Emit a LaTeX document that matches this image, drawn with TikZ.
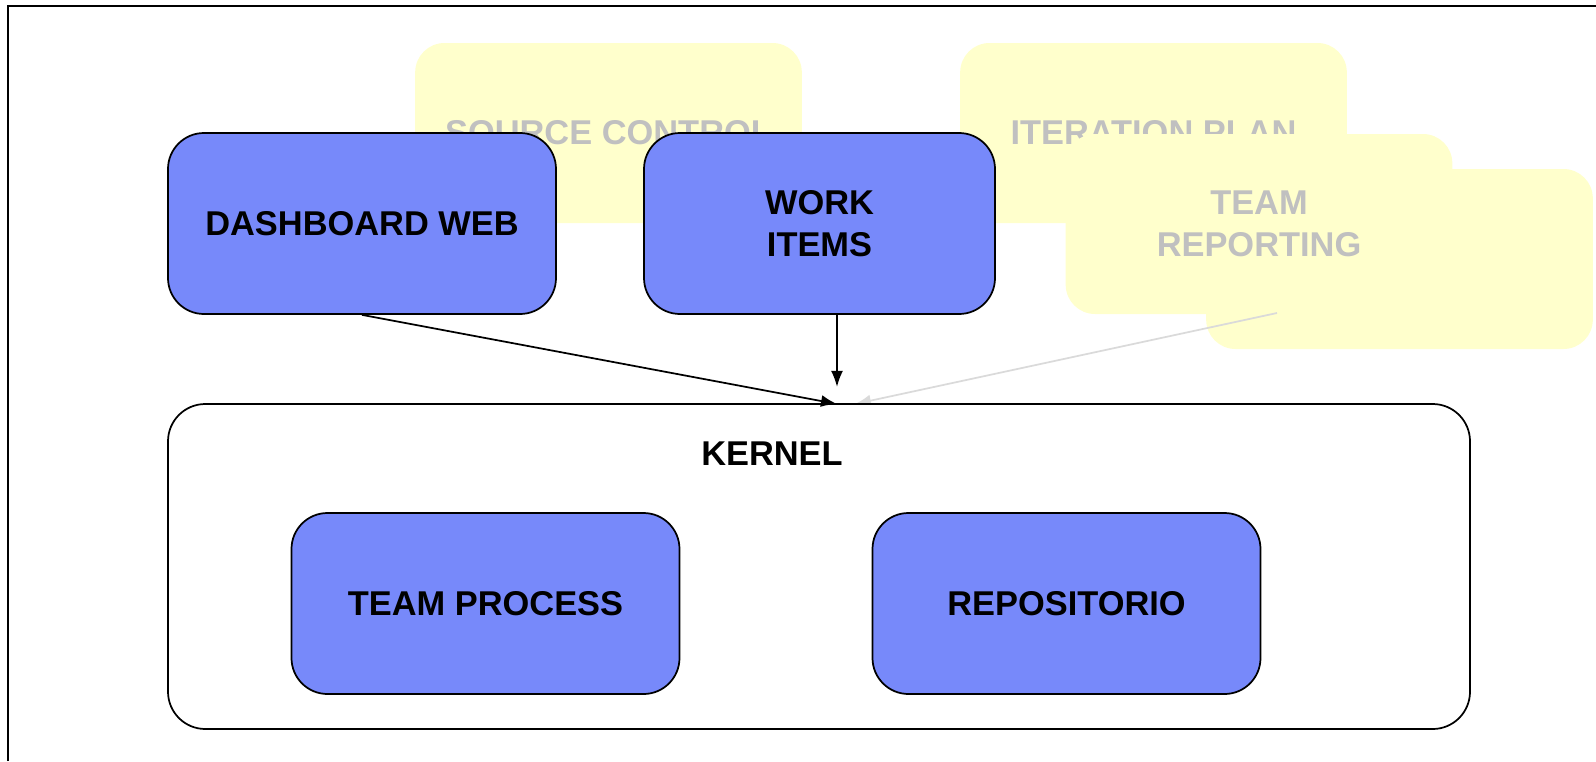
\documentclass[tikz,border=0pt]{standalone}
\usepackage{amsmath}
\usepackage{fontspec}
\setmainfont{Liberation Sans}
\usetikzlibrary{arrows.meta}

\definecolor{boxblue}{RGB}{119,137,250}
\definecolor{paleyellow}{RGB}{255,255,204}
\definecolor{fadedtext}{RGB}{192,192,192}
\definecolor{fadedline}{RGB}{218,218,218}

\begin{document}
\begin{tikzpicture}[x=0.75pt,y=0.75pt,yscale=-1,xscale=1,
  bluebox/.style={draw=black, line width=1.3pt, fill=boxblue, rounded corners=27pt,
    minimum width=291pt, minimum height=135.75pt, inner sep=0pt, align=center,
    font=\fontsize{25.8}{31.2}\selectfont\bfseries},
  yellowbox/.style={fill=paleyellow, rounded corners=22pt, minimum width=290pt,
    minimum height=135pt, inner sep=0pt, align=center, text=fadedtext,
    font=\fontsize{25.8}{31.2}\selectfont\bfseries},
  arr/.style={line width=1.3pt, -{Latex[length=12pt,width=9pt]}},
  fadedarr/.style={draw=fadedline, line width=1.3pt, -{Latex[length=12pt,width=9pt]}}]
\useasboundingbox (0,0) rectangle (1596,761);

%Frame
\draw [line width=1.1pt]  (8,761) -- (8,6) -- (1596,6) ;

%Rounded Rect (faded modules)
\draw (608.5,133) node [yellowbox] (src) {SOURCE CONTROL};
\draw (1153.5,133) node [yellowbox] (iter) {ITERATION PLAN};
\draw (1399.5,259) node [yellowbox] (rep2) {};
\draw (1259,224) node [yellowbox] (rep) {TEAM\\REPORTING};

%Straight Lines (faded)
\coordinate (repout) at (1277,313);
\coordinate (kin2) at (855,404);
\draw [fadedarr]  (repout) -- (kin2) ;

%Rounded Rect (kernel)
\draw (819,566.5) node [draw=black, line width=1.3pt, fill=white, rounded corners=28pt,
  minimum width=976.5pt, minimum height=243.75pt] (kernel) {};
% Text Node
\draw (772,454) node [font=\fontsize{25.8}{31.2}\selectfont\bfseries] (klabel) {KERNEL};

%Rounded Rect (modules)
\draw (362,223.5) node [bluebox] (dash) {DASHBOARD WEB};
\draw (819.5,223.5) node [bluebox, minimum width=263.25pt] (work) {WORK\\ITEMS};
\draw (485.5,603.5) node [bluebox] (proc) {TEAM PROCESS};
\draw (1066.5,603.5) node [bluebox] (repo) {REPOSITORIO};

%Straight Lines
\coordinate (kin) at (837,404);
\draw [arr]  (dash.south) -- (kin) ;
\draw [arr]  (work.south -| kin) -- ++(0,72) ;

\end{tikzpicture}
\end{document}
